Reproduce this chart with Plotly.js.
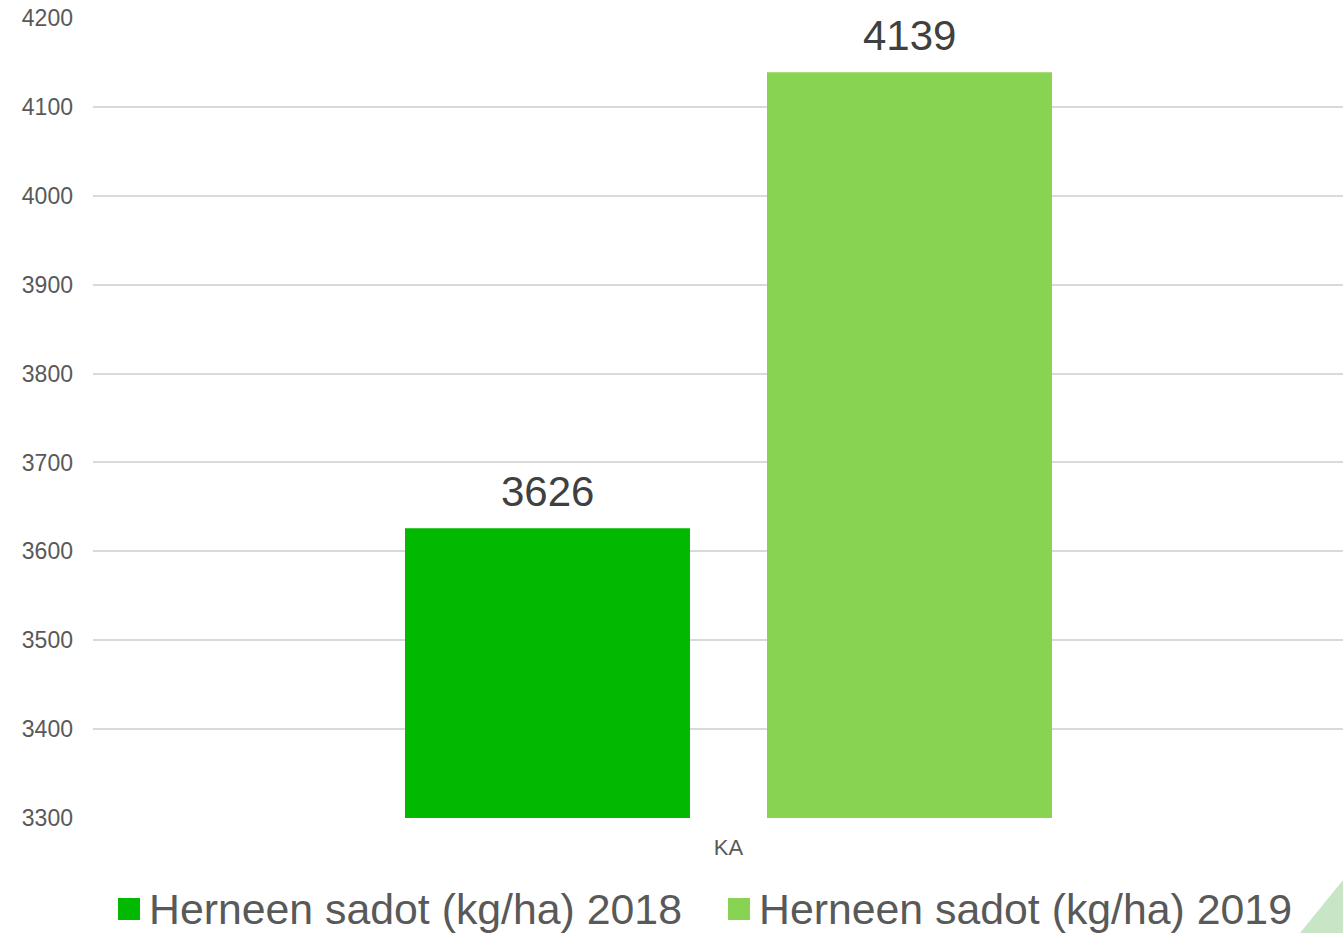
<!DOCTYPE html>
<html><head><meta charset="utf-8">
<script src="https://cdn.plot.ly/plotly-3.0.1.min.js"></script>
<style>html,body{margin:0;padding:0;background:#fff;overflow:hidden}</style>
</head><body>
<div id="chart" style="width:1343px;height:933px"></div>
<script>
const categories = ["KA"];
const seriesNames = ["Herneen sadot (kg/ha) 2018", "Herneen sadot (kg/ha) 2019"];
const values2018 = [3626];
const values2019 = [4139];
const colors = ["#00B900", "#88D351"];
const yTicks = [3300, 3400, 3500, 3600, 3700, 3800, 3900, 4000, 4100, 4200];

const W = 1343, H = 933, L = 93, R = 0, T = 18, B = 115;
const pw = W - L - R, ph = H - T - B;
const px = v => (v - L) / pw;
const py = v => (H - B - v) / ph;
const bargap = 0.4208, bargroupgap = 0.2127;

const fontFam = "Liberation Sans, Arial, sans-serif";
const series = [values2018, values2019];
const traces = series.map((vals, i) => ({
  type: "bar", x: categories, y: vals, name: seriesNames[i],
  marker: {color: colors[i]},
  showlegend: false, hoverinfo: "skip"
}));

const shapes = [];
const annotations = [];
// value labels above bars (placed at data coordinates, shifted to each bar's slot)
const slotPx = pw * (1 - bargap) / series.length;
series.forEach((vals, i) => {
  vals.forEach((v, j) => {
    annotations.push({xref: "x", yref: "y", x: categories[j], y: v,
      xanchor: "center", yanchor: "bottom", showarrow: false,
      xshift: (i - (series.length - 1) / 2) * slotPx, yshift: 11,
      text: String(v), font: {size: 42, color: "#404040", family: fontFam}});
  });
});
// legend drawn as squares + text
const legendX = [118, 728];
legendX.forEach((lx, i) => {
  shapes.push({type: "rect", xref: "paper", yref: "paper",
    x0: px(lx), x1: px(lx + 22), y0: py(920), y1: py(898),
    fillcolor: colors[i], line: {width: 0}});
  annotations.push({xref: "paper", yref: "paper", x: px(lx + 29), y: py(909),
    xanchor: "left", yanchor: "middle", showarrow: false,
    text: seriesNames[i], font: {size: 42.8, color: "#595959", family: fontFam}});
});
// decorative corner triangle
shapes.push({type: "path", xref: "paper", yref: "paper", layer: "below",
  path: `M ${px(1300)} ${py(933)} L ${px(1343)} ${py(880)} L ${px(1343)} ${py(933)} Z`,
  fillcolor: "#C8E6C6", line: {width: 0}});

const layout = {
  width: W, height: H,
  margin: {l: L, r: R, t: T, b: B, pad: 0},
  paper_bgcolor: "#fff", plot_bgcolor: "#fff",
  barmode: "group", bargap: bargap, bargroupgap: bargroupgap,
  font: {family: fontFam, color: "#595959"},
  xaxis: {type: "category", range: [-0.5084, 0.4916], showgrid: false, zeroline: false,
    showline: false, ticks: "", tickfont: {size: 22, color: "#595959"}, ticklabelstandoff: 14},
  yaxis: {range: [3300, 4200], tickvals: yTicks, ticktext: yTicks.map(String),
    showgrid: true, gridcolor: "#D9D9D9", gridwidth: 2, zeroline: false, showline: false,
    ticks: "", tickfont: {size: 23, color: "#595959"}, ticklabelstandoff: 19},
  shapes: shapes, annotations: annotations, showlegend: false
};
Plotly.newPlot("chart", traces, layout, {displayModeBar: false, staticPlot: true});
</script>
</body></html>
